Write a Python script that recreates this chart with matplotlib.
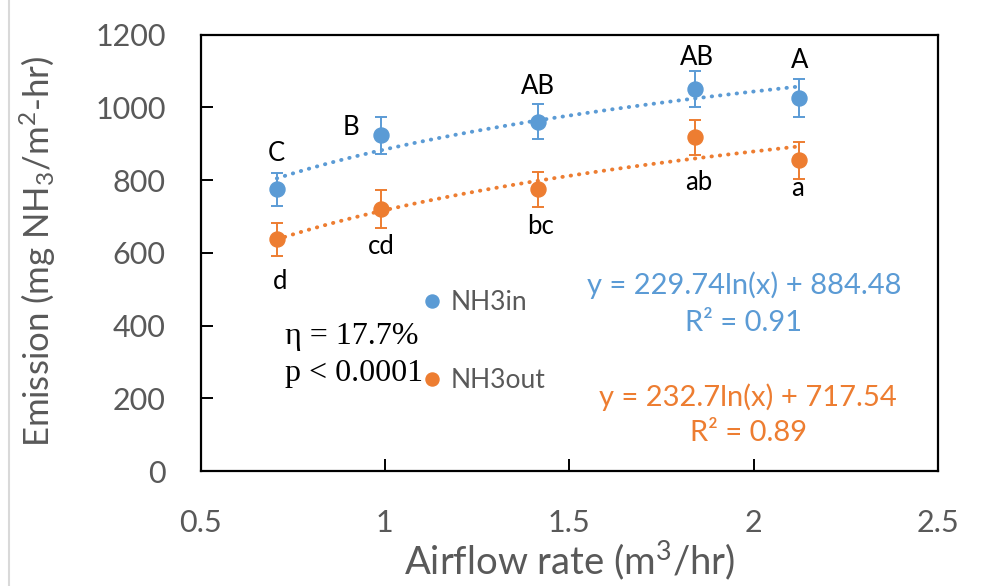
import numpy as np
import matplotlib
matplotlib.use("Agg")
import matplotlib.pyplot as plt
from matplotlib.lines import Line2D

# ---------------- data ----------------
airflow = [0.707, 0.990, 1.415, 1.840, 2.123]
nh3_in = [775, 924, 961, 1050, 1025]
nh3_in_err = [45, 51, 49, 49, 52]
nh3_out = [637, 720, 775, 918, 855]
nh3_out_err = [45, 52, 48, 48, 51]
letters_in = ["C", "B", "AB", "AB", "A"]
letters_out = ["d", "cd", "bc", "ab", "a"]
fit_in = (229.74, 884.48)
fit_out = (232.7, 717.54)
r2_in = 0.91
r2_out = 0.89
series_names = ["NH3in", "NH3out"]
xtick_vals = [0.5, 1.0, 1.5, 2.0, 2.5]
xtick_labels = ["0.5", "1", "1.5", "2", "2.5"]
ytick_vals = [0, 200, 400, 600, 800, 1000, 1200]
stats_lines = ["η = 17.7%", "p < 0.0001"]

BLUE = "#5B9BD5"
ORANGE = "#ED7D31"
GRAY = "#595959"

plt.rcParams["font.family"] = ["Lato", "DejaVu Sans"]
plt.rcParams["mathtext.fontset"] = "custom"
plt.rcParams["mathtext.rm"] = "Lato"
plt.rcParams["mathtext.it"] = "Lato:italic"
plt.rcParams["mathtext.bf"] = "Lato:bold"

fig = plt.figure(figsize=(10, 5.86), dpi=100)
ax = fig.add_axes([0.2005, 0.1962, 0.7375, 0.7446])

# outer chart-area border line (left)
fig.add_artist(Line2D([0.009, 0.009], [0, 1], transform=fig.transFigure,
                      color="#D9D9D9", lw=1.5))

x = np.array(airflow)
for yv, ev, col in [(nh3_in, nh3_in_err, BLUE), (nh3_out, nh3_out_err, ORANGE)]:
    ax.errorbar(x, yv, yerr=ev, fmt="o", color=col, ms=10.8, mec=col,
                elinewidth=1.4, capsize=4.6, capthick=1.4, zorder=3)

# logarithmic trendlines from the displayed fit coefficients
xs = np.linspace(x.min(), x.max(), 200)
for (a, b), col in [(fit_in, BLUE), (fit_out, ORANGE)]:
    ax.plot(xs, a * np.log(xs) + b, color=col, lw=2.8,
            linestyle=(0, (0.1, 2.05)), dash_capstyle="round", zorder=4)

# letter annotations (offsets in pixels)
off_in = [(-1, 36), (-30, 8), (0, 35), (2, 32), (1, 38)]
off_out = [(3, -42), (0, -37), (3, -37), (4, -45), (-1, -28)]
for xi, yi, lab, (dx, dy) in zip(airflow, nh3_in, letters_in, off_in):
    ax.annotate(lab, (xi, yi), xytext=(dx, dy), textcoords="offset pixels",
                ha="center", va="center", fontsize=18.5, color="black")
for xi, yi, lab, (dx, dy) in zip(airflow, nh3_out, letters_out, off_out):
    ax.annotate(lab, (xi, yi), xytext=(dx, dy), textcoords="offset pixels",
                ha="center", va="center", fontsize=18.5, color="black")

# axes styling
ax.set_xlim(0.5, 2.5)
ax.set_ylim(0, 1200)
ax.set_xticks(xtick_vals)
ax.set_xticklabels(xtick_labels)
ax.set_yticks(ytick_vals)
for sp in ax.spines.values():
    sp.set_linewidth(1.6)
    sp.set_color("black")
ax.tick_params(axis="both", direction="in", length=8.5, width=1.4,
               labelsize=22, labelcolor=GRAY, color="black")
ax.tick_params(axis="y", pad=25)
ax.tick_params(axis="x", pad=27)

ax.set_xlabel("Airflow rate (m$^3$/hr)", fontsize=27.5, color=GRAY, va="center")
ax.xaxis.set_label_coords(0.501, -0.204)
ax.set_ylabel("Emission (mg NH$_3$/m$^2$-hr)", fontsize=25, color=GRAY, va="center")
ax.yaxis.set_label_coords(-0.22, 0.502)

# legend
handles = [Line2D([], [], marker="o", ls="none", color=BLUE, ms=9.4),
           Line2D([], [], marker="o", ls="none", color=ORANGE, ms=9.4)]
leg = ax.legend(handles, series_names, loc="center left",
                bbox_to_anchor=(0.3033, 0.2964), frameon=False, fontsize=19,
                handlelength=0.6, handletextpad=0.4, labelspacing=2.0,
                borderpad=0, borderaxespad=0)
for t in leg.get_texts():
    t.set_color(GRAY)

# stats text
ax.text(0.1146, 0.3078, stats_lines[0], transform=ax.transAxes, ha="left",
        va="center", fontsize=23, family="Liberation Serif", color="black")
ax.text(0.1146, 0.2246, stats_lines[1], transform=ax.transAxes, ha="left",
        va="center", fontsize=23, family="Liberation Serif", color="black")

# trendline equations
ax.text(0.737, 0.4263, f"y = {fit_in[0]}ln(x) + {fit_in[1]}", transform=ax.transAxes,
        ha="center", va="center", fontsize=21, color=BLUE)
ax.text(0.737, 0.3392, f"R² = {r2_in}", transform=ax.transAxes,
        ha="center", va="center", fontsize=21, color=BLUE)
ax.text(0.7424, 0.1703, f"y = {fit_out[0]}ln(x) + {fit_out[1]}", transform=ax.transAxes,
        ha="center", va="center", fontsize=21, color=ORANGE)
ax.text(0.7437, 0.0871, f"R² = {r2_out}", transform=ax.transAxes,
        ha="center", va="center", fontsize=21, color=ORANGE)

fig.savefig("out.png", dpi=100)
